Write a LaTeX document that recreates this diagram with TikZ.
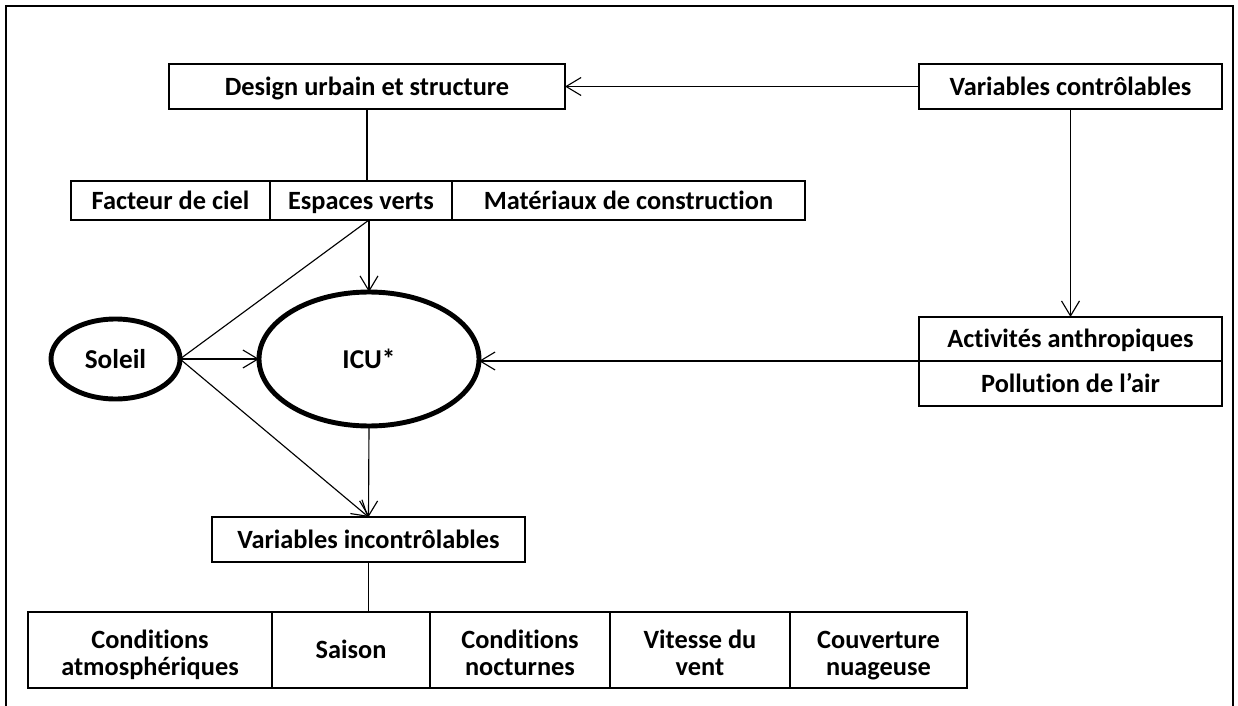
\documentclass[tikz,border=0pt]{standalone}
\usepackage{fontspec}
\setmainfont{Carlito}[Ligatures=NoCommon]
\usetikzlibrary{arrows.meta,shapes.geometric}
\def\u{0.02cm}
\newcommand{\twolines}[2]{\raisebox{-7.5pt}[0pt][0pt]{\begin{tabular}{@{}c@{}}#1\\#2\end{tabular}}}
\tikzset{
  box/.style={draw, line width=0.8pt, rectangle, inner sep=0pt, outer sep=0pt, align=center,
    font=\fontsize{15}{15}\selectfont\bfseries},
  one/.style={box, text height=1.0em, text depth=0em},
  two/.style={draw, line width=0.8pt, rectangle, inner sep=0pt, outer sep=0pt,
    text height=0pt, text depth=0pt, font=\fontsize{15}{15}\selectfont\bfseries},
  oval/.style={draw, line width=2.8pt, ellipse, inner sep=0pt, outer sep=0pt,
    font=\fontsize{15.5}{16}\selectfont\bfseries},
  conn/.style={line width=0.65pt},
  arr/.style={line width=0.65pt, -{Straight Barb[length=0.3cm, width=0.36cm]}},
  frame/.style={line width=1.2pt}
}
\begin{document}
\begin{tikzpicture}[x=\u, y=-\u]
\useasboundingbox (0,0) rectangle (1238,706);
\draw[frame] (6,706) -- (6,6) -- (1233,6) -- (1233,706);

\node[one, minimum width=396*\u, minimum height=45*\u] (design) at (367,86.5) {Design urbain et structure};
\node[one, minimum width=303*\u, minimum height=45*\u] (varc) at (1070.5,86.5) {Variables contrôlables};

\node[one, minimum width=199*\u, minimum height=39*\u] (facteur) at (170.5,200.5) {Facteur de ciel};
\node[one, minimum width=182*\u, minimum height=39*\u] (espaces) at (361,200.5) {Espaces verts};
\node[one, minimum width=353*\u, minimum height=39*\u] (materiaux) at (628.5,200.5) {Matériaux de construction};

\node[oval, minimum width=129*\u, minimum height=80*\u] (soleil) at (115.5,359) {Soleil};
\node[oval, minimum width=220*\u, minimum height=134*\u] (icu) at (369,359) {ICU*};

\node[one, minimum width=303*\u, minimum height=44*\u] (activ) at (1070.5,339) {Activités anthropiques};
\node[one, minimum width=303*\u, minimum height=45*\u] (pollu) at (1070.5,383.5) {Pollution de l’air};

\node[one, minimum width=313*\u, minimum height=45*\u] (vari) at (368.5,539.5) {Variables incontrôlables};

\node[two, minimum width=244*\u, minimum height=76*\u] (atmo) at (150,650) {\twolines{Conditions}{atmosphériques}};
\node[one, minimum width=158*\u, minimum height=76*\u] (saison) at (351,650) {Saison};
\node[two, minimum width=180*\u, minimum height=76*\u] (noct) at (520,650) {\twolines{Conditions}{nocturnes}};
\node[two, minimum width=180*\u, minimum height=76*\u] (vent) at (700,650) {\twolines{Vitesse du}{vent}};
\node[two, minimum width=177*\u, minimum height=76*\u] (nuage) at (878.5,650) {\twolines{Couverture}{nuageuse}};

\coordinate (esp) at (icu.north |- espaces.south);

\draw[arr] (varc.west) -- (design.east);
\draw[arr] (varc.south) -- (activ.north);
\draw[arr] (activ.south west) -- (icu.east |- activ.south west);
\draw[conn] (design.south) -- (design.south |- espaces.north);
\draw[arr] (esp) -- (icu.north);
\draw[conn] (esp) -- (soleil.east);
\draw[arr] (soleil.east) -- (icu.west);
\draw[arr] (soleil.east) -- (vari.north);
\draw[arr] (icu.south) -- (vari.north);
\draw[conn] (vari.south) -- (vari.south |- saison.north);
\end{tikzpicture}
\end{document}
